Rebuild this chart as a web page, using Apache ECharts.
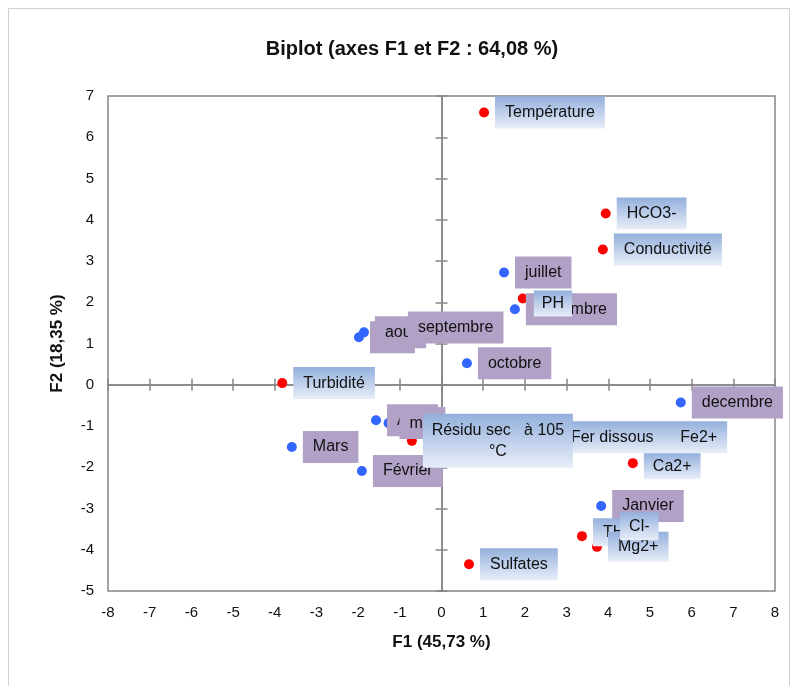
<!DOCTYPE html>
<html><head><meta charset="utf-8">
<script src="https://cdn.jsdelivr.net/npm/echarts@6/dist/echarts.min.js"></script>
<style>html,body{margin:0;padding:0;background:#fff}#chart{width:797px;height:686px}</style>
</head><body><div id="chart"></div>
<script>
// Active variables: coordinates on F1 / F2
const varNames = ['Température', 'HCO3-', 'Conductivité', 'PH', 'Turbidité', 'Fer dissous      Fe2+',
  'Résidu sec à 105 °C', 'Ca2+', 'Sulfates', 'TH', 'Mg2+', 'Cl-'];
const varF1 = [1.02, 3.94, 3.87, 1.95, -3.82, 2.60, -0.71, 4.59, 0.66, 3.37, 3.73, 4.02];
const varF2 = [6.60, 4.15, 3.28, 2.09, 0.04, -1.27, -1.36, -1.90, -4.35, -3.67, -3.93, -3.43];

// Observations (months): coordinates on F1 / F2
const monthNames = ['Janvier', 'Février', 'Mars', 'Avril', 'mai', 'juin', 'juillet', 'aout',
  'septembre', 'octobre', 'novembre', 'decembre'];
const monthF1 = [3.83, -1.91, -3.59, -1.57, -1.27, -1.98, 1.50, -1.86, -1.07, 0.61, 1.76, 5.74];
const monthF2 = [-2.94, -2.09, -1.51, -0.86, -0.93, 1.15, 2.72, 1.27, 1.39, 0.52, 1.83, -0.43];

// Axis ticks
const xTicks = [-8, -7, -6, -5, -4, -3, -2, -1, 0, 1, 2, 3, 4, 5, 6, 7, 8];
const yTicks = [-5, -4, -3, -2, -1, 0, 1, 2, 3, 4, 5, 6, 7];

const FONT = '"Liberation Sans", Arial, sans-serif';
const AXIS_COLOR = '#868686';
const BLUE_BOX = new echarts.graphic.LinearGradient(0, 0, 0, 1, [
  { offset: 0, color: '#94b0dc' }, { offset: 1, color: '#e8eef9' }
]);
const PURPLE_BOX = '#b2a1c7';

// individual label adjustments
const labelTweaks = {
  'PH': { padding: [4, 8], offset: [0, 5] },
  'TH': { padding: [5, 10], offset: [0, -4] },
  'Cl-': { padding: [5, 9] },
  'Mg2+': { padding: [6, 10] },
  'Ca2+': { padding: [4, 9], offset: [0, 3] },
  'Résidu sec à 105 °C': {
    padding: [6, 9],
    formatter: '{c|Résidu sec   à 105}\n{c|°C}',
    rich: { c: { width: 132, align: 'center', lineHeight: 21, fontSize: 16, fontFamily: FONT, color: '#111' } }
  }
};

function points(names, xs, ys) {
  return names.map((n, i) => ({ name: n, value: [xs[i], ys[i]] }));
}
function labelled(names, xs, ys, bg) {
  return names.map((n, i) => {
    const t = labelTweaks[n] || {};
    return {
      name: n, value: [xs[i], ys[i]],
      label: Object.assign({
        show: true, position: 'right', distance: 6,
        formatter: '{b}', backgroundColor: bg, padding: [7, 10],
        fontSize: 16, lineHeight: 18, fontFamily: FONT, color: '#111'
      }, t)
    };
  });
}

const tickValueAxis = (dim, extra) => Object.assign({
  type: 'value', min: dim === 'x' ? xTicks[0] : yTicks[0],
  max: dim === 'x' ? xTicks[xTicks.length - 1] : yTicks[yTicks.length - 1],
  interval: 1, splitLine: { show: false }
}, extra);

const zeroAxis = (dim, inside) => tickValueAxis(dim, {
  position: dim === 'x' ? 'bottom' : 'left',
  axisLine: { show: true, onZero: true, onZeroAxisIndex: 0, lineStyle: { color: AXIS_COLOR, width: 1.5 } },
  axisTick: { show: true, inside: inside, length: 6, lineStyle: { color: AXIS_COLOR, width: 1.5 } },
  axisLabel: { show: false }
});

const chart = echarts.init(document.getElementById('chart'), null, { renderer: 'canvas' });
chart.setOption({
  backgroundColor: '#fff',
  animation: false,
  title: {
    text: 'Biplot (axes F1 et F2 : 64,08 %)', left: 407, top: 34, textAlign: 'center',
    textStyle: { fontFamily: FONT, fontSize: 20, fontWeight: 'bold', color: '#111' }
  },
  graphic: [{
    type: 'rect', shape: { x: 8.5, y: 8.5, width: 781, height: 700 },
    style: { fill: 'none', stroke: '#d0d0d0', lineWidth: 1 }, silent: true, z: -1
  }],
  grid: {
    left: 108, top: 96, width: 667, height: 495, show: true,
    borderColor: AXIS_COLOR, borderWidth: 1.5, backgroundColor: 'transparent'
  },
  xAxis: [
    tickValueAxis('x', {
      position: 'bottom', name: 'F1 (45,73 %)', nameLocation: 'middle', nameGap: 43,
      nameTextStyle: { fontFamily: FONT, fontSize: 17, fontWeight: 'bold', color: '#111' },
      axisLine: { show: false, onZero: false }, axisTick: { show: false },
      axisLabel: { margin: 14, fontFamily: FONT, fontSize: 15, color: '#111' }
    }),
    zeroAxis('x', true),
    zeroAxis('x', false)
  ],
  yAxis: [
    tickValueAxis('y', {
      position: 'left', name: 'F2 (18,35 %)', nameLocation: 'middle', nameGap: 42,
      nameTextStyle: { fontFamily: FONT, fontSize: 17, fontWeight: 'bold', color: '#111' },
      axisLine: { show: false, onZero: false }, axisTick: { show: false },
      axisLabel: { margin: 14, fontFamily: FONT, fontSize: 15, color: '#111' }
    }),
    zeroAxis('y', true),
    zeroAxis('y', false)
  ],
  series: [
    { // month points
      type: 'scatter', z: 2, symbolSize: 10, silent: true,
      itemStyle: { color: '#3366ff', opacity: 1 }, data: points(monthNames, monthF1, monthF2)
    },
    { // variable points
      type: 'scatter', z: 2, symbolSize: 10, silent: true,
      itemStyle: { color: '#ff0000', opacity: 1 }, data: points(varNames, varF1, varF2)
    },
    { // month labels
      type: 'scatter', z: 3, symbolSize: 10, silent: true,
      itemStyle: { color: 'rgba(0,0,0,0)', opacity: 1 }, data: labelled(monthNames, monthF1, monthF2, PURPLE_BOX)
    },
    { // variable labels
      type: 'scatter', z: 4, symbolSize: 10, silent: true,
      itemStyle: { color: 'rgba(0,0,0,0)', opacity: 1 }, data: labelled(varNames, varF1, varF2, BLUE_BOX)
    }
  ]
});
</script></body></html>
